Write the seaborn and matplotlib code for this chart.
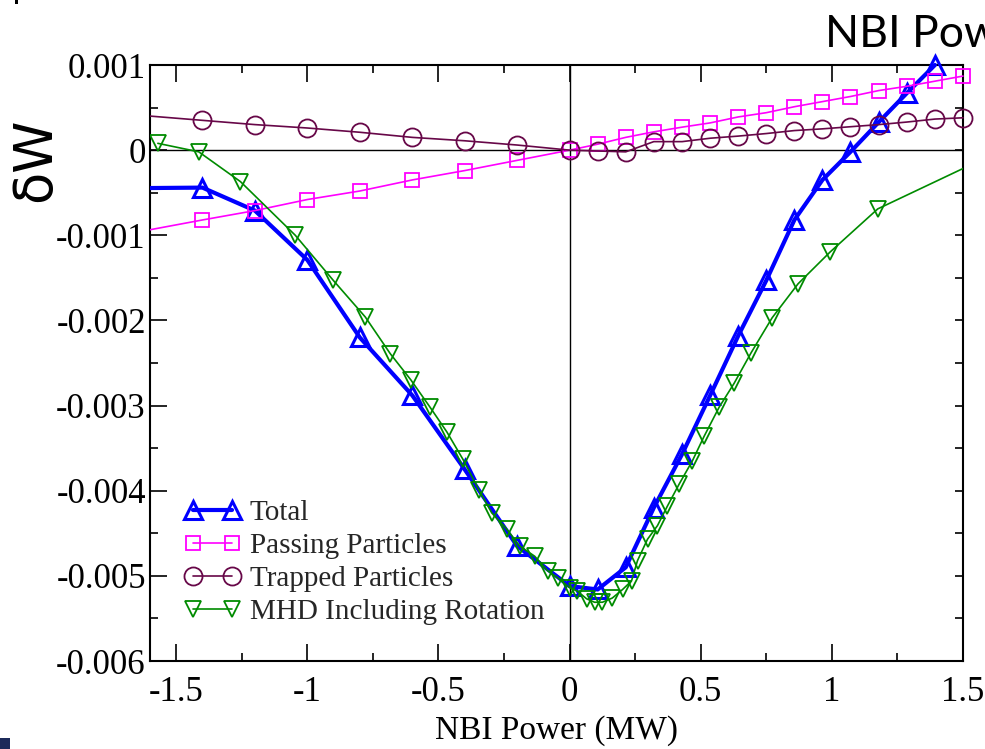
import matplotlib
matplotlib.use("Agg")
import matplotlib.pyplot as plt
import seaborn as sns
from matplotlib.ticker import MultipleLocator, NullLocator
from matplotlib.patches import Rectangle
from matplotlib.transforms import Bbox, TransformedBbox

# ---------------- data ----------------
total_x = [-1.8, -1.4, -1.2, -1.0, -0.8, -0.6, -0.4, -0.2, 0.0,
           0.107, 0.214, 0.321, 0.429, 0.536, 0.643, 0.75, 0.857,
           0.964, 1.071, 1.179, 1.286, 1.393]
total_y = [-0.45e-3, -0.44e-3, -0.71e-3, -1.29e-3, -2.20e-3, -2.88e-3,
           -3.75e-3, -4.65e-3, -5.12e-3, -5.16e-3, -4.90e-3, -4.20e-3,
           -3.57e-3, -2.88e-3, -2.18e-3, -1.53e-3, -0.82e-3, -0.35e-3,
           -0.02e-3, 0.33e-3, 0.67e-3, 1.00e-3]

particles_x = [-1.8, -1.4, -1.2, -1.0, -0.8, -0.6, -0.4, -0.2, 0.0,
               0.107, 0.214, 0.321, 0.429, 0.536, 0.643, 0.75, 0.857,
               0.964, 1.071, 1.179, 1.286, 1.393, 1.5]
passing_y = [-1.05e-3, -0.82e-3, -0.71e-3, -0.58e-3, -0.48e-3, -0.35e-3,
             -0.24e-3, -0.12e-3, 0.0, 0.07e-3, 0.15e-3, 0.215e-3, 0.27e-3,
             0.32e-3, 0.39e-3, 0.44e-3, 0.51e-3, 0.57e-3, 0.63e-3, 0.70e-3,
             0.75e-3, 0.81e-3, 0.87e-3]
trapped_y = [0.45e-3, 0.35e-3, 0.30e-3, 0.26e-3, 0.21e-3, 0.15e-3,
             0.11e-3, 0.06e-3, 0.0, -0.01e-3, -0.02e-3, 0.10e-3, 0.10e-3,
             0.14e-3, 0.165e-3, 0.195e-3, 0.23e-3, 0.25e-3, 0.275e-3,
             0.30e-3, 0.33e-3, 0.365e-3, 0.38e-3]

mhd_x = [-1.57, -1.414, -1.255, -1.046, -0.901, -0.779, -0.684, -0.605,
         -0.532, -0.468, -0.407, -0.346, -0.297, -0.240, -0.190, -0.133,
         -0.084, -0.046, 0.0, 0.030, 0.065, 0.095, 0.125, 0.163, 0.202,
         0.236, 0.259, 0.297, 0.335, 0.373, 0.418, 0.468, 0.513, 0.570,
         0.627, 0.692, 0.772, 0.871, 0.992, 1.175, 1.6]
mhd_y = [0.08e-3, -0.02e-3, -0.37e-3, -1.00e-3, -1.53e-3, -1.96e-3,
         -2.39e-3, -2.70e-3, -3.02e-3, -3.31e-3, -3.63e-3, -3.99e-3,
         -4.26e-3, -4.45e-3, -4.65e-3, -4.77e-3, -4.94e-3, -5.02e-3,
         -5.14e-3, -5.18e-3, -5.27e-3, -5.31e-3, -5.31e-3, -5.26e-3,
         -5.16e-3, -5.06e-3, -4.82e-3, -4.57e-3, -4.41e-3, -4.18e-3,
         -3.92e-3, -3.65e-3, -3.36e-3, -3.02e-3, -2.74e-3, -2.38e-3,
         -1.97e-3, -1.57e-3, -1.20e-3, -0.69e-3, -0.07e-3]

series_labels = ["Total", "Passing Particles", "Trapped Particles",
                 "MHD Including Rotation"]

xtick_values = [-1.5, -1.0, -0.5, 0.0, 0.5, 1.0, 1.5]
xtick_labels = ["-1.5", "-1", "-0.5", "0", "0.5", "1", "1.5"]
ytick_values = [-0.006, -0.005, -0.004, -0.003, -0.002, -0.001, 0.0, 0.001]
ytick_labels = ["-0.006", "-0.005", "-0.004", "-0.003", "-0.002",
                "-0.001", "0", "0.001"]

x_label = "NBI Power (MW)"
y_label = "\u03b4W"
corner_title = "NBI Power"

# ---------------- style ----------------
sns.set_theme(style="ticks")
plt.rcParams["font.family"] = ["Liberation Serif", "DejaVu Serif"]

W, H = 985, 749
fig = plt.figure(figsize=(W / 100, H / 100), dpi=100)
ax = fig.add_axes([150 / W, 1 - 661 / H, 813 / W, 596 / H])

ax.axhline(0, color="black", lw=1.0, zorder=1)
ax.axvline(0, color="black", lw=1.0, zorder=1)

BLUE = "#0000ff"
MAGENTA = "#ff00ff"
MAROON = "#670748"
GREEN = "#008b00"


def clip_to(line, x1, y1):
    line.set_clip_path(None)
    line.set_clip_box(TransformedBbox(Bbox([[0, 0], [x1, y1]]),
                                      ax.transAxes))


sns.lineplot(x=total_x, y=total_y, ax=ax, sort=False, estimator=None,
             color=BLUE, linewidth=3.0, marker="^", markersize=12.5,
             markerfacecolor="none", markeredgecolor=BLUE,
             markeredgewidth=2.2, label=series_labels[0], zorder=3)
clip_to(ax.lines[-1], 1.0, 1.04)
sns.lineplot(x=particles_x, y=passing_y, ax=ax, sort=False, estimator=None,
             color=MAGENTA, linewidth=1.2, marker="s", markersize=10.5,
             markerfacecolor="none", markeredgecolor=MAGENTA,
             markeredgewidth=1.3, label=series_labels[1], zorder=3)
clip_to(ax.lines[-1], 1.03, 1.0)
sns.lineplot(x=particles_x, y=trapped_y, ax=ax, sort=False, estimator=None,
             color=MAROON, linewidth=1.2, marker="o", markersize=13,
             markerfacecolor="none", markeredgecolor=MAROON,
             markeredgewidth=1.3, label=series_labels[2], zorder=3)
clip_to(ax.lines[-1], 1.03, 1.0)
sns.lineplot(x=mhd_x, y=mhd_y, ax=ax, sort=False, estimator=None,
             color=GREEN, linewidth=1.2, marker="v", markersize=12,
             markerfacecolor="none", markeredgecolor=GREEN,
             markeredgewidth=1.3, label=series_labels[3], zorder=3)

ax.set_xlim(-1.6, 1.5)
ax.set_ylim(-0.006, 0.001)
ax.set_xticks(xtick_values)
ax.set_xticklabels(xtick_labels)
ax.set_yticks(ytick_values)
ax.set_yticklabels(ytick_labels)
ax.xaxis.set_minor_locator(MultipleLocator(0.25))
ax.yaxis.set_minor_locator(MultipleLocator(0.0005))

ax.tick_params(which="both", direction="in", top=True, right=False,
               color="black", width=1.2, labelsize=25, labelcolor="black")
ax.tick_params(which="major", length=12)
ax.tick_params(which="minor", length=6)
ax.tick_params(axis="x", pad=11)
ax.tick_params(axis="y", pad=3)
for sp in ax.spines.values():
    sp.set_visible(True)
    sp.set_color("black")
    sp.set_linewidth(1.5)

# right-hand ticks (all short)
ax2 = ax.twinx()
ax2.set_ylim(ax.get_ylim())
ax2.yaxis.set_major_locator(MultipleLocator(0.0005))
ax2.yaxis.set_minor_locator(NullLocator())
ax2.tick_params(direction="in", length=6, width=1.2, color="black",
                labelright=False)
for sp in ax2.spines.values():
    sp.set_visible(False)

ax.set_xlabel(x_label, fontsize=24, labelpad=4, color="black")
ax.set_ylabel("")

leg = ax.legend(loc="upper left", bbox_to_anchor=(0.042, 0.27),
                frameon=False, numpoints=2, handlelength=1.95,
                handletextpad=0.3, labelspacing=0.22, borderpad=0,
                borderaxespad=0, prop={"family": "Liberation Serif",
                                       "size": 21})

fig.text(35 / W, 1 - 160 / H, y_label, rotation=90, ha="center",
         va="center", fontsize=38, family=["DejaVu Sans"], color="black")
fig.text(825 / W, 1 - 47 / H, corner_title, ha="left", va="baseline",
         fontsize=32, family=["Lato", "DejaVu Sans"], color="black")

fig.add_artist(Rectangle((0, 0), 10 / W, 11 / H, transform=fig.transFigure,
                         color="#1c2a5a", lw=0))
fig.add_artist(Rectangle((15 / W, 1 - 4 / H), 3 / W, 4 / H,
                         transform=fig.transFigure, color="black", lw=0))

fig.savefig("out.png", dpi=100)
